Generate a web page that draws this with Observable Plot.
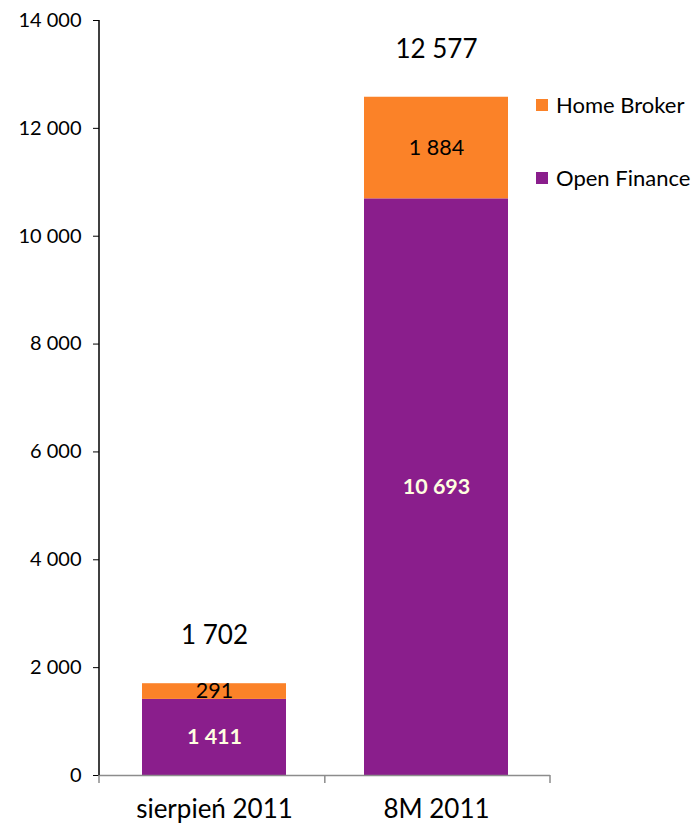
<!DOCTYPE html>
<html>
<head>
<meta charset="utf-8">
<script src="https://cdn.jsdelivr.net/npm/d3@7"></script>
<script src="https://cdn.jsdelivr.net/npm/@observablehq/plot@0.6"></script>
<style>
  html, body { margin: 0; padding: 0; background: #fff; }
  #wrap { position: relative; width: 695px; height: 827px; font-family: Lato, "Open Sans", sans-serif; }
  .leg { position: absolute; left: 536px; font-size: 22px; color: #000; display: flex; align-items: center; white-space: nowrap; }
  .sw { width: 12px; height: 12px; margin-right: 8px; }
</style>
</head>
<body>
<div id="wrap"></div>
<script>
const categories = ["sierpień 2011", "8M 2011"];
const series = ["Open Finance", "Home Broker"];
const openFinance = [1411, 10693];
const homeBroker = [291, 1884];
const totals = [1702, 12577];
const yTicks = [0, 2000, 4000, 6000, 8000, 10000, 12000, 14000];
const colors = ["#8A1E8C", "#FB8228"];
const legendTop = [104, 177];

const fmt = v => d3.format(",")(v).replace(/,/g, " ");

const rows = [];
categories.forEach((c, i) => {
  rows.push({cat: c, series: series[0], value: openFinance[i]});
  rows.push({cat: c, series: series[1], value: homeBroker[i]});
});
const totalRows = categories.map((c, i) => ({cat: c, value: totals[i]}));

const chart = Plot.plot({
  width: 695,
  height: 827,
  marginLeft: 99,
  marginRight: 145,
  marginTop: 20,
  marginBottom: 52,
  style: {fontFamily: "Lato, 'Open Sans', sans-serif", background: "#fff"},
  x: {domain: categories, paddingInner: 0.353, paddingOuter: 0.19, label: null},
  y: {domain: [0, 14000], label: null},
  color: {domain: series, range: colors},
  marks: [
    Plot.barY(rows, {x: "cat", y: "value", fill: "series", order: series}),
    Plot.ruleY([0], {stroke: "#8c8c8c", strokeWidth: 1.5}),
    Plot.axisY({ticks: yTicks, tickFormat: fmt, tickSize: 6, tickPadding: 12, fontSize: 20, stroke: "#000", label: null}),
    Plot.axisX({tickSize: 0, tickPadding: 24, fontSize: 26, label: null}),
    Plot.text(rows, Plot.stackY({
      x: "cat", y: "value", z: "series", order: series,
      text: d => d.series === "Home Broker" ? fmt(d.value) : null,
      fill: "#000",
      fontSize: 21.5
    })),
    Plot.text(rows, Plot.stackY({
      x: "cat", y: "value", z: "series", order: series,
      text: d => d.series === "Open Finance" ? fmt(d.value) : null,
      fill: "#FFFFE0",
      fontWeight: "bold",
      fontSize: 21.5
    })),
    Plot.text(totalRows, {x: "cat", y: "value", text: d => fmt(d.value), dy: -48, fontSize: 26, fill: "#000"})
  ]
});

// y axis line and category boundary ticks derived from scales
const svg = d3.select(chart);
const xs = chart.scale("x");
const ys = chart.scale("y");
const [x0, x1] = xs.range;
const yTop = ys.apply(14000), yBot = ys.apply(0);
svg.append("line").attr("x1", x0).attr("x2", x0).attr("y1", yTop).attr("y2", yBot)
  .attr("stroke", "#000").attr("stroke-width", 1.5);
const step = xs.step;
const bounds = [x0];
categories.forEach((c, i) => bounds.push(xs.apply(c) - step * xs.paddingInner / 2 + step));
bounds[bounds.length - 1] = x1;
bounds.forEach(b => {
  svg.append("line").attr("x1", b).attr("x2", b).attr("y1", yBot).attr("y2", yBot + 8)
    .attr("stroke", "#8c8c8c").attr("stroke-width", 1.5);
});

const wrap = document.getElementById("wrap");
wrap.appendChild(chart);
[series[1], series[0]].forEach((s, i) => {
  const d = document.createElement("div");
  d.className = "leg";
  d.style.top = (legendTop[i] - 13) + "px";
  d.innerHTML = `<span class="sw" style="background:${colors[series.indexOf(s)]}"></span><span>${s}</span>`;
  wrap.appendChild(d);
});
</script>
</body>
</html>
